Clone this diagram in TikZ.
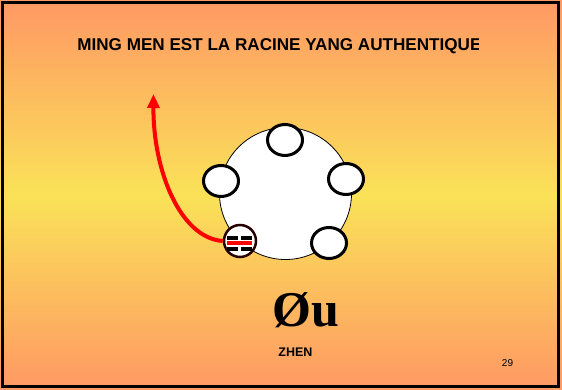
\documentclass[tikz,border=0pt]{standalone}
\usepackage{fontspec}
\setmainfont{Liberation Sans}
\newfontfamily\serifface{Liberation Serif}
\usepackage{tikz}
\usetikzlibrary{positioning,
				shapes.geometric,
				arrows.meta,
				calc}
\definecolor{slidetop}{RGB}{255,152,100}
\definecolor{slidemid}{RGB}{250,226,88}

\begin{document}
\begin{tikzpicture}[x=1pt,y=-1pt,thick,
	petal/.style={ellipse, draw, fill=white, line width=3pt, minimum width=35pt, minimum height=31pt, inner sep=0pt},
	bar/.style={line width=3.8pt}]
		\useasboundingbox (0,0) rectangle (562,390);
		\shade[top color=slidetop, bottom color=slidetop, middle color=slidemid] (0,0) rectangle (562,390);
		\draw[line width=3pt] (2.5,2.5) rectangle (558.5,386.5);

		% title, cut at the right
		\begin{scope}
			\clip (0,0) rectangle (478,390);
			\node[anchor=west, inner sep=0pt, font=\bfseries\fontsize{17.1}{17}\selectfont] (title) at (77,46.5) {MING MEN EST LA RACINE YANG AUTHENTIQUE};
		\end{scope}

		\node[circle, draw, fill=white, line width=0.8pt, minimum size=132pt, inner sep=0pt] (wheel) at (285.5,193.5) {};
		\node[petal] (p1) at (285,140) {};
		\node[petal] (p2) at (346,179) {};
		\node[petal] (p3) at (329,243) {};
		\node[petal] (p4) at (221,181) {};
		\node[circle, draw=black!85!red, fill=white, line width=2.5pt, minimum size=32pt, inner sep=0pt] (zhen) at (240,241) {};
		\draw[bar] ($(zhen)+(-13,-2.7)$) -- ($(zhen)+(-2,-2.7)$);
		\draw[bar] ($(zhen)+(1,-2.7)$) -- ($(zhen)+(12,-2.7)$);
		\draw[bar, red] ($(zhen)+(-13,2.3)$) -- ($(zhen)+(12,2.3)$);
		\draw[bar] ($(zhen)+(-13,7.7)$) -- ($(zhen)+(-2,7.7)$);
		\draw[bar] ($(zhen)+(1,7.7)$) -- ($(zhen)+(12,7.7)$);

		\coordinate (tip) at (153.5,94);
		\draw[red, line width=4pt, -{Triangle[width=12pt,length=14pt]}] (zhen.west) .. controls (180,238) and (153,170) .. (tip);

		\node[anchor=base, inner sep=0pt, font=\serifface\bfseries\fontsize{50}{50}\selectfont] (name) at (306,326) {Øu};
		\node[font=\bfseries\fontsize{12.5}{12}\selectfont, inner sep=0pt] (pinyin) at (295.5,352) {ZHEN};
		\node[font=\fontsize{10}{10}\selectfont, inner sep=0pt] (page) at (507.5,363.5) {29};
  \end{tikzpicture}
\end{document}
